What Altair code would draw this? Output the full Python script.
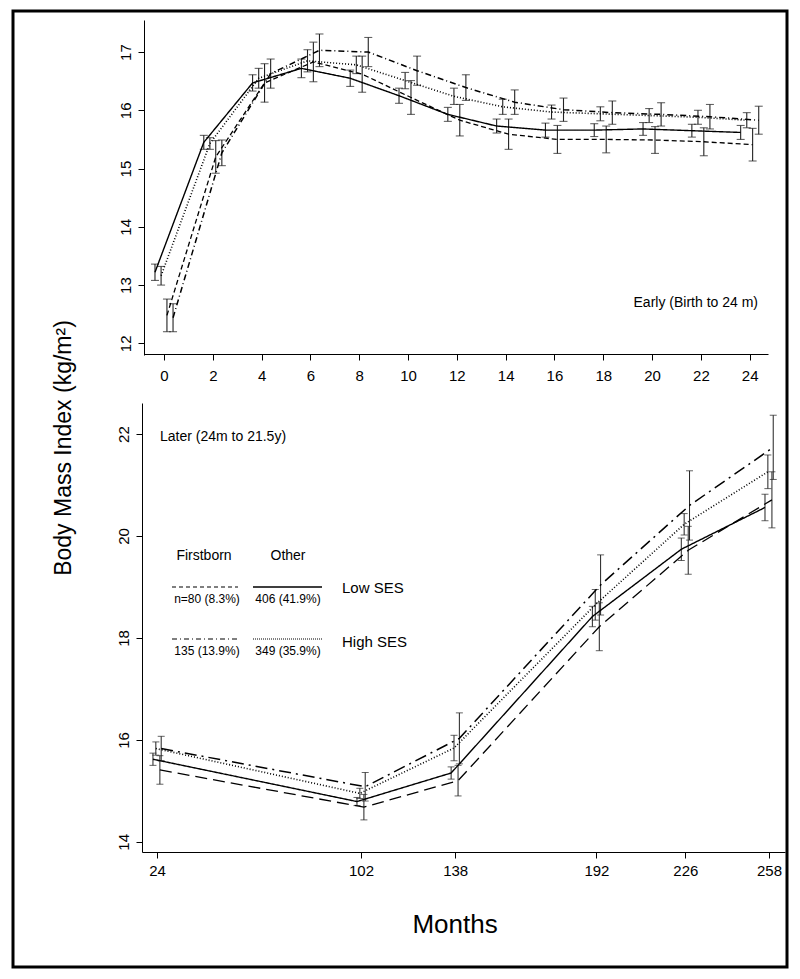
import altair as alt
import pandas as pd

FONT = "Liberation Sans"

# ---------------- data ----------------
series = ["Firstborn, Low SES", "Other, Low SES", "Firstborn, High SES", "Other, High SES"]

months_early = [0, 2, 4, 6, 8, 10, 12, 14, 16, 18, 20, 22, 24]
early_fb_low = [12.48, 15.20, 16.47, 16.83, 16.62, 16.22, 15.83, 15.59, 15.50, 15.50, 15.49, 15.46, 15.41]
early_fb_low_err = [0.28, 0.28, 0.33, 0.34, 0.31, 0.29, 0.27, 0.26, 0.24, 0.23, 0.23, 0.24, 0.28]
early_ot_low = [13.22, 15.45, 16.47, 16.72, 16.55, 16.25, 15.93, 15.73, 15.66, 15.66, 15.68, 15.65, 15.62]
early_ot_low_err = [0.14, 0.12, 0.14, 0.16, 0.14, 0.13, 0.12, 0.12, 0.12, 0.11, 0.11, 0.11, 0.12]
early_fb_high = [12.44, 15.27, 16.63, 17.03, 17.00, 16.68, 16.39, 16.14, 16.01, 15.96, 15.93, 15.89, 15.83]
early_fb_high_err = [0.24, 0.22, 0.25, 0.28, 0.25, 0.25, 0.22, 0.21, 0.20, 0.20, 0.20, 0.21, 0.24]
early_ot_high = [13.16, 15.43, 16.55, 16.85, 16.78, 16.51, 16.24, 16.06, 15.97, 15.94, 15.91, 15.88, 15.83]
early_ot_high_err = [0.16, 0.10, 0.17, 0.19, 0.15, 0.14, 0.14, 0.13, 0.12, 0.12, 0.12, 0.12, 0.13]

months_later = [24, 102, 138, 192, 226, 258]
later_fb_low = [15.41, 14.68, 15.20, 18.22, 19.72, 20.71]
later_fb_low_err = [0.28, 0.25, 0.30, 0.47, 0.47, 0.55]
later_ot_low = [15.62, 14.79, 15.35, 18.42, 19.74, 20.56]
later_ot_low_err = [0.12, 0.08, 0.12, 0.20, 0.22, 0.26]
later_fb_high = [15.83, 15.08, 16.03, 19.04, 20.60, 21.74]
later_fb_high_err = [0.24, 0.28, 0.50, 0.59, 0.68, 0.63]
later_ot_high = [15.83, 14.95, 15.84, 18.65, 20.23, 21.26]
later_ot_high_err = [0.13, 0.10, 0.25, 0.30, 0.21, 0.33]

y_ticks_early = [12, 13, 14, 15, 16, 17]
y_ticks_later = [14, 16, 18, 20, 22]

legend_counts = ["n=80 (8.3%)", "406 (41.9%)", "135 (13.9%)", "349 (35.9%)"]

# ---------------- styling (not data) ----------------
dodge_early = {series[0]: 0.12, series[1]: -0.37, series[2]: 0.37, series[3]: -0.12}
dodge_later = {series[0]: 1.1, series[1]: -1.55, series[2]: 1.6, series[3]: -0.45}
dash_early = [[5, 3], [1, 0], [6, 3, 1, 3], [1, 2]]
dash_later = [[12, 6], [1, 0], [12, 5, 2, 5], [1, 2]]


def build(months, means, errs, dodge):
    rows = []
    for s, m_list, e_list in zip(series, means, errs):
        for mo, m, e in zip(months, m_list, e_list):
            rows.append({"series": s, "month": mo, "x": mo + dodge[s],
                         "mean": m, "lo": m - e, "hi": m + e})
    return pd.DataFrame(rows)


df_early = build(months_early,
                 [early_fb_low, early_ot_low, early_fb_high, early_ot_high],
                 [early_fb_low_err, early_ot_low_err, early_fb_high_err, early_ot_high_err],
                 dodge_early)
df_later = build(months_later,
                 [later_fb_low, later_ot_low, later_fb_high, later_ot_high],
                 [later_fb_low_err, later_ot_low_err, later_fb_high_err, later_ot_high_err],
                 dodge_later)

W, H = 784, 963

axis_common = dict(grid=False, domainColor="black", tickColor="black", labelColor="black",
                   labelFont=FONT, labelFontSize=15, tickSize=6, domainWidth=1, tickWidth=1,
                   title=None, labelOverlap=False, labelFlush=False)


def panel(df, xdom, xrange, ydom, yrange, xticks, yticks, xoff, yoff, dashes, lw_err, cap, xpad):
    xs = alt.Scale(domain=xdom, range=xrange, nice=False, zero=False)
    ys = alt.Scale(domain=ydom, range=yrange, nice=False, zero=False)
    xax = alt.Axis(orient="bottom", values=xticks, offset=xoff, labelPadding=xpad, **axis_common)
    yax = alt.Axis(orient="left", values=yticks, offset=yoff, labelAngle=270,
                   labelAlign="center", labelBaseline="bottom", labelPadding=5, **axis_common)
    X = alt.X("x:Q", scale=xs, axis=xax)
    dash = alt.StrokeDash("series:N", scale=alt.Scale(domain=series, range=dashes), legend=None)
    width = alt.StrokeWidth("series:N", scale=alt.Scale(domain=series, range=[1.3, 1.6, 1.3, 1.1]), legend=None)
    base = alt.Chart(df)
    line = base.mark_line(color="black").encode(
        x=X, y=alt.Y("mean:Q", scale=ys, axis=yax), strokeDash=dash, strokeWidth=width,
        detail="series:N", order="x:Q")
    rule = base.mark_rule(color="#222222", strokeWidth=lw_err).encode(
        x=X, y=alt.Y("lo:Q", scale=ys, axis=yax), y2="hi:Q")
    cap_lo = base.mark_tick(color="#222222", orient="horizontal", size=cap, thickness=lw_err).encode(
        x=X, y=alt.Y("lo:Q", scale=ys, axis=yax))
    cap_hi = base.mark_tick(color="#222222", orient="horizontal", size=cap, thickness=lw_err).encode(
        x=X, y=alt.Y("hi:Q", scale=ys, axis=yax))
    return alt.layer(rule, cap_lo, cap_hi, line)


top = panel(df_early, [-0.82, 24.75], [136, 760], [11.8, 17.55], [347, 12],
            months_early, y_ticks_early, -(H - 346), -136, dash_early, 1.1, 8, 8)
bottom = panel(df_later, [18.26, 264.1], [134, 777], [13.80, 22.61], [844, 395],
               months_later, y_ticks_later, -(H - 844), -134, dash_later, 1.0, 7, 5)

one = pd.DataFrame({"k": [0]})


def txt(text, x, y, size, align="center", angle=0, baseline="middle"):
    kw = dict(text=text, align=align, baseline=baseline, font=FONT, fontSize=size, color="black")
    if angle:
        kw["angle"] = angle
    return alt.Chart(one).mark_text(**kw).encode(x=alt.value(x), y=alt.value(y))


def seg(x1, x2, y, dash, w=1.1):
    return alt.Chart(one).mark_rule(color="black", strokeWidth=w, strokeDash=dash).encode(
        x=alt.value(x1), x2=alt.value(x2), y=alt.value(y))


annotations = [
    txt("Early (Birth to 24 m)", 750, 295, 14, align="right"),
    txt("Later (24m to 21.5y)", 152, 429, 14, align="left"),
    txt("Firstborn", 196, 548, 14),
    txt("Other", 280, 548, 14),
    seg(164, 230, 579, [4, 3]),
    seg(245, 314, 579, [1, 0], 1.5),
    txt(legend_counts[0], 199, 591, 12),
    txt(legend_counts[1], 280, 591, 12),
    txt("Low SES", 334, 580, 15, align="left"),
    seg(164, 232, 631, [5, 3, 1, 3]),
    seg(245, 314, 631, [1, 1], 1.0),
    txt(legend_counts[2], 199, 643, 12),
    txt(legend_counts[3], 280, 643, 12),
    txt("High SES", 334, 634, 15, align="left"),
    txt("Body Mass Index (kg/m²)", 56, 440, 23, angle=270),
    txt("Months", 447, 917, 26),
    alt.Chart(one).mark_rect(fillOpacity=0, stroke="black", strokeWidth=3).encode(
        x=alt.value(5), x2=alt.value(779), y=alt.value(3), y2=alt.value(959)),
]

chart = alt.layer(top, bottom, *annotations).resolve_scale(
    x="independent", y="independent", strokeDash="independent", strokeWidth="independent"
).resolve_axis(x="independent", y="independent").properties(
    width=W, height=H, autosize=alt.AutoSizeParams(type="none"), padding=0,
    background="white"
).configure_view(stroke="transparent")

chart.save("out.html", embed_options={"renderer": "svg", "actions": False})
